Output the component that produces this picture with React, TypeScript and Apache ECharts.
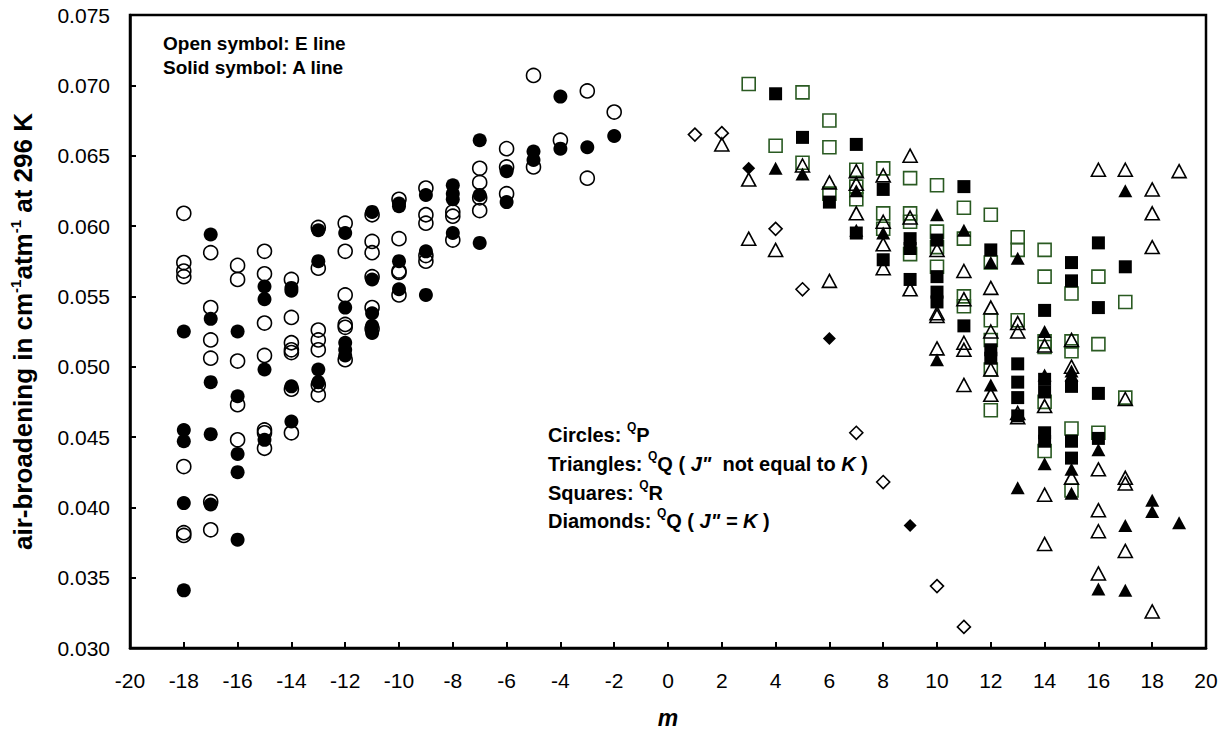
import React, { useEffect, useRef } from "react";
import * as echarts from "echarts";

// ---- Data (m, air-broadening) ----
const circlesOpen: number[][] = [
  [-18, 0.0609], [-18, 0.0574], [-18, 0.0568], [-18, 0.0564], [-18, 0.0429], [-18, 0.0382], [-18, 0.0380],
  [-17, 0.0581], [-17, 0.0542], [-17, 0.0519], [-17, 0.0506], [-17, 0.0404], [-17, 0.0384],
  [-16, 0.0572], [-16, 0.0562], [-16, 0.0504], [-16, 0.0473], [-16, 0.0448],
  [-15, 0.0582], [-15, 0.0566], [-15, 0.0531], [-15, 0.0508], [-15, 0.0455], [-15, 0.0453], [-15, 0.0442],
  [-14, 0.0562], [-14, 0.0535], [-14, 0.0517], [-14, 0.0512], [-14, 0.0510], [-14, 0.0484], [-14, 0.0453],
  [-13, 0.0599], [-13, 0.0570], [-13, 0.0526], [-13, 0.0519], [-13, 0.0512], [-13, 0.0487], [-13, 0.0480],
  [-12, 0.0602], [-12, 0.0582], [-12, 0.0551], [-12, 0.0530], [-12, 0.0528], [-12, 0.0505],
  [-11, 0.0608], [-11, 0.0589], [-11, 0.0581], [-11, 0.0564], [-11, 0.0542], [-11, 0.0527],
  [-10, 0.0619], [-10, 0.0591], [-10, 0.0568], [-10, 0.0567], [-10, 0.0551],
  [-9, 0.0627], [-9, 0.0608], [-9, 0.0602], [-9, 0.0579], [-9, 0.0575],
  [-8, 0.0610], [-8, 0.0607], [-8, 0.0590],
  [-7, 0.0641], [-7, 0.0631], [-7, 0.0620], [-7, 0.0611],
  [-6, 0.0655], [-6, 0.0642], [-6, 0.0623],
  [-5, 0.0707], [-5, 0.0642],
  [-4, 0.0661],
  [-3, 0.0696], [-3, 0.0634],
  [-2, 0.0681],
];

const circlesSolid: number[][] = [
  [-18, 0.0525], [-18, 0.0455], [-18, 0.0447], [-18, 0.0403], [-18, 0.0341],
  [-17, 0.0594], [-17, 0.0534], [-17, 0.0489], [-17, 0.0452], [-17, 0.0402],
  [-16, 0.0525], [-16, 0.0479], [-16, 0.0438], [-16, 0.0425], [-16, 0.0377],
  [-15, 0.0557], [-15, 0.0548], [-15, 0.0498], [-15, 0.0448],
  [-14, 0.0556], [-14, 0.0554], [-14, 0.0486], [-14, 0.0461],
  [-13, 0.0597], [-13, 0.0575], [-13, 0.0498], [-13, 0.0489],
  [-12, 0.0595], [-12, 0.0542], [-12, 0.0517], [-12, 0.0512], [-12, 0.0508],
  [-11, 0.0610], [-11, 0.0562], [-11, 0.0538], [-11, 0.0529], [-11, 0.0524],
  [-10, 0.0616], [-10, 0.0614], [-10, 0.0575], [-10, 0.0555],
  [-9, 0.0622], [-9, 0.0582], [-9, 0.0551],
  [-8, 0.0629], [-8, 0.0623], [-8, 0.0619], [-8, 0.0595],
  [-7, 0.0661], [-7, 0.0622], [-7, 0.0588],
  [-6, 0.0639], [-6, 0.0617],
  [-5, 0.0653], [-5, 0.0647],
  [-4, 0.0692], [-4, 0.0655],
  [-3, 0.0656],
  [-2, 0.0664],
];

const trianglesOpen: number[][] = [
  [2, 0.0658],
  [3, 0.0633], [3, 0.0591],
  [4, 0.0583],
  [5, 0.0643],
  [6, 0.0631], [6, 0.0561],
  [7, 0.0639], [7, 0.0630], [7, 0.0609],
  [8, 0.0636], [8, 0.0603], [8, 0.0587], [8, 0.0570],
  [9, 0.0650], [9, 0.0606], [9, 0.0555],
  [10, 0.0583], [10, 0.0538], [10, 0.0536], [10, 0.0513],
  [11, 0.0568], [11, 0.0548], [11, 0.0517], [11, 0.0512], [11, 0.0487],
  [12, 0.0556], [12, 0.0542], [12, 0.0525], [12, 0.0498], [12, 0.0480],
  [13, 0.0531], [13, 0.0525], [13, 0.0467], [13, 0.0464],
  [14, 0.0515], [14, 0.0472], [14, 0.0409], [14, 0.0374],
  [15, 0.0519], [15, 0.0500], [15, 0.0421],
  [16, 0.0640], [16, 0.0427], [16, 0.0398], [16, 0.0383], [16, 0.0353],
  [17, 0.0640], [17, 0.0477], [17, 0.0421], [17, 0.0417], [17, 0.0369],
  [18, 0.0626], [18, 0.0609], [18, 0.0585], [18, 0.0326],
  [19, 0.0639],
];

const trianglesSolid: number[][] = [
  [4, 0.0641],
  [5, 0.0637],
  [7, 0.0625], [7, 0.0597],
  [8, 0.0595],
  [10, 0.0608], [10, 0.0505],
  [11, 0.0597],
  [12, 0.0574], [12, 0.0487],
  [13, 0.0577], [13, 0.0414],
  [14, 0.0525], [14, 0.0494], [14, 0.0431],
  [15, 0.0497], [15, 0.0494], [15, 0.0427], [15, 0.0410],
  [16, 0.0441], [16, 0.0342],
  [17, 0.0625], [17, 0.0387], [17, 0.0341],
  [18, 0.0405], [18, 0.0397],
  [19, 0.0389],
];

const squaresOpen: number[][] = [
  [3, 0.0701],
  [4, 0.0657],
  [5, 0.0695], [5, 0.0645],
  [6, 0.0675], [6, 0.0656], [6, 0.0623],
  [7, 0.0640], [7, 0.0628], [7, 0.0619],
  [8, 0.0641], [8, 0.0609], [8, 0.0598],
  [9, 0.0634], [9, 0.0609], [9, 0.0603], [9, 0.0580],
  [10, 0.0629], [10, 0.0596], [10, 0.0585], [10, 0.0571],
  [11, 0.0613], [11, 0.0591], [11, 0.0550], [11, 0.0543],
  [12, 0.0608], [12, 0.0574], [12, 0.0533], [12, 0.0519], [12, 0.0498], [12, 0.0469],
  [13, 0.0592], [13, 0.0583], [13, 0.0533],
  [14, 0.0583], [14, 0.0564], [14, 0.0518], [14, 0.0514], [14, 0.0475], [14, 0.0440],
  [15, 0.0552], [15, 0.0518], [15, 0.0511], [15, 0.0456], [15, 0.0412],
  [16, 0.0564], [16, 0.0516], [16, 0.0453],
  [17, 0.0546], [17, 0.0478],
];

const squaresSolid: number[][] = [
  [4, 0.0694],
  [5, 0.0663],
  [6, 0.0617],
  [7, 0.0658], [7, 0.0595],
  [8, 0.0626], [8, 0.0576],
  [9, 0.0591], [9, 0.0584], [9, 0.0562],
  [10, 0.0590], [10, 0.0564], [10, 0.0553], [10, 0.0546],
  [11, 0.0628], [11, 0.0529],
  [12, 0.0583], [12, 0.0512], [12, 0.0506],
  [13, 0.0502], [13, 0.0489], [13, 0.0478], [13, 0.0465],
  [14, 0.0540], [14, 0.0491], [14, 0.0482], [14, 0.0453], [14, 0.0447],
  [15, 0.0574], [15, 0.0561], [15, 0.0486], [15, 0.0447], [15, 0.0435],
  [16, 0.0588], [16, 0.0542], [16, 0.0481], [16, 0.0449],
  [17, 0.0571],
];

const diamondsOpen: number[][] = [
  [1, 0.0665], [2, 0.0666], [4, 0.0598], [5, 0.0555], [7, 0.0453], [8, 0.0418], [10, 0.0344], [11, 0.0315],
];

const diamondsSolid: number[][] = [
  [3, 0.0641], [6, 0.0520], [9, 0.0387],
];

const xMin = -20;
const xMax = 20;
const xStep = 2;
const yMin = 0.03;
const yMax = 0.075;
const yStep = 0.005;

const FONT = "'Liberation Sans', Arial, sans-serif";
const GREEN = "#2a5a22";

const openStyle = (color: string) => ({ color: "rgba(255,255,255,0)", borderColor: color, borderWidth: 1.6, opacity: 1 });
const solidStyle = { color: "#000", borderColor: "#000", borderWidth: 0, opacity: 1 };

export default function App() {
  const ref = useRef<HTMLDivElement>(null);

  useEffect(() => {
    document.body.style.margin = "0";
    if (!ref.current) return;
    const chart = echarts.init(ref.current, undefined, { renderer: "svg" });

    const bold = { fontFamily: FONT, fontWeight: "bold" as const, fontSize: 20, color: "#000", lineHeight: 28 };
    const ital = { ...bold, fontStyle: "italic" as const };
    const sup = { fontFamily: FONT, fontWeight: "bold" as const, fontSize: 12, color: "#000", lineHeight: 13, verticalAlign: "top" as const };
    const rich = { b: bold, i: ital, s: sup };

    const legendLines = [
      "{b|Circles: }{s|Q}{b|P}",
      '{b|Triangles: }{s|Q}{b|Q ( }{i|J"}{b|  not equal to }{i|K}{b| )}',
      "{b|Squares: }{s|Q}{b|R}",
      '{b|Diamonds: }{s|Q}{b|Q ( }{i|J" = K}{b| )}',
    ];
    const legendCenters = [437, 465.5, 494.5, 522.5];

    const option: any = {
      animation: false,
      backgroundColor: "#fff",
      grid: {
        left: 128,
        right: 25,
        top: 15,
        bottom: 86,
        show: true,
        borderColor: "#000",
        borderWidth: 2.5,
        backgroundColor: "transparent",
      },
      xAxis: {
        type: "value",
        min: xMin,
        max: xMax,
        interval: xStep,
        name: "m",
        nameLocation: "middle",
        nameGap: 58,
        nameTextStyle: { fontFamily: FONT, fontSize: 23, fontWeight: "bold", fontStyle: "italic", color: "#000" },
        axisLine: { show: true, onZero: false, lineStyle: { color: "#000", width: 2.5 } },
        axisTick: { show: true, inside: true, length: 6, lineStyle: { color: "#000", width: 2 } },
        axisLabel: { fontFamily: FONT, fontSize: 21, color: "#000", margin: 22 },
        splitLine: { show: false },
      },
      yAxis: {
        type: "value",
        min: yMin,
        max: yMax,
        interval: yStep,
        name: "{a|air-broadening in cm}{s|-1}{a|atm}{s|-1}{a| at 296 K}",
        nameLocation: "middle",
        nameGap: 92,
        nameTextStyle: {
          rich: {
            a: { fontFamily: FONT, fontSize: 26, fontWeight: "bold", color: "#000", lineHeight: 30 },
            s: { fontFamily: FONT, fontSize: 15, fontWeight: "bold", color: "#000", lineHeight: 15, verticalAlign: "top" },
          },
        },
        axisLine: { show: true, onZero: false, lineStyle: { color: "#000", width: 2.5 } },
        axisTick: { show: true, inside: true, length: 6, lineStyle: { color: "#000", width: 2 } },
        axisLabel: {
          fontFamily: FONT,
          fontSize: 21,
          color: "#000",
          margin: 20,
          formatter: (v: number) => v.toFixed(3),
        },
        splitLine: { show: false },
      },
      graphic: [
        {
          type: "text",
          left: 163,
          top: 34,
          style: { text: "Open symbol: E line", fontFamily: FONT, fontWeight: "bold", fontSize: 19, fill: "#000" },
        },
        {
          type: "text",
          left: 163,
          top: 58,
          style: { text: "Solid symbol: A line", fontFamily: FONT, fontWeight: "bold", fontSize: 19, fill: "#000" },
        },
        ...legendLines.map((t, i) => ({
          type: "text",
          left: 548,
          top: legendCenters[i] - 16,
          style: { text: t, rich },
        })),
      ],
      series: [
        { type: "scatter", name: "P open", data: circlesOpen, symbol: "circle", symbolSize: 14, itemStyle: openStyle("#000") },
        { type: "scatter", name: "P solid", data: circlesSolid, symbol: "circle", symbolSize: 14, itemStyle: solidStyle },
        { type: "scatter", name: "R open", data: squaresOpen, symbol: "rect", symbolSize: 13, itemStyle: openStyle(GREEN) },
        { type: "scatter", name: "R solid", data: squaresSolid, symbol: "rect", symbolSize: 13, itemStyle: solidStyle },
        { type: "scatter", name: "Q open", data: trianglesOpen, symbol: "triangle", symbolSize: [14, 13], itemStyle: openStyle("#000") },
        { type: "scatter", name: "Q solid", data: trianglesSolid, symbol: "triangle", symbolSize: [14, 13], itemStyle: solidStyle },
        { type: "scatter", name: "QJK open", data: diamondsOpen, symbol: "diamond", symbolSize: 13, itemStyle: openStyle("#000") },
        { type: "scatter", name: "QJK solid", data: diamondsSolid, symbol: "diamond", symbolSize: 13, itemStyle: solidStyle },
      ],
    };

    chart.setOption(option);
    return () => chart.dispose();
  }, []);

  return <div ref={ref} style={{ width: 1231, height: 734 }} />;
}
